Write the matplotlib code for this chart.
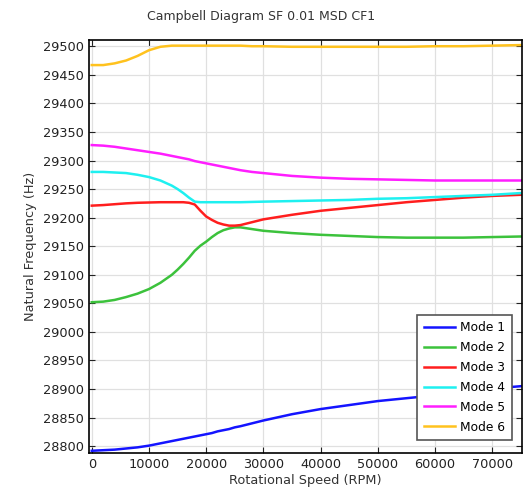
import matplotlib
matplotlib.use("Agg")
import matplotlib.pyplot as plt

# rotational speed samples (RPM)
rpm = [0, 2000, 4000, 6000, 8000, 10000, 12000, 14000, 15000, 16000, 17000,
       18000, 19000, 20000, 21000, 22000, 23000, 24000, 25000, 26000, 28000,
       30000, 35000, 40000, 45000, 50000, 55000, 60000, 65000, 70000, 75000]

mode1 = [28792, 28793, 28794, 28796, 28798, 28801, 28805, 28809, 28811, 28813, 28815,
         28817, 28819, 28821, 28823, 28826, 28828, 28830, 28833, 28835, 28840,
         28845, 28856, 28865, 28872, 28879, 28884, 28889, 28895, 28901, 28905]
mode2 = [29052, 29053, 29056, 29061, 29067, 29075, 29086, 29100, 29109, 29119, 29130,
         29142, 29151, 29158, 29166, 29173, 29178, 29181, 29183, 29183, 29180,
         29177, 29173, 29170, 29168, 29166, 29165, 29165, 29165, 29166, 29167]
mode3 = [29221, 29222, 29223.5, 29225, 29226, 29226.5, 29227, 29227, 29227, 29227, 29226,
         29223, 29212, 29202, 29196, 29191, 29188, 29186, 29186, 29187, 29192,
         29197, 29205, 29212, 29217, 29222, 29227, 29231, 29235, 29238, 29240]
mode4 = [29280, 29280, 29279, 29278, 29275, 29271, 29265, 29256, 29250, 29243, 29235,
         29228, 29227, 29227, 29227, 29227, 29227, 29227, 29227, 29227, 29227.5,
         29228, 29229, 29230, 29231, 29233, 29234, 29236, 29238, 29240, 29243]
mode5 = [29327, 29326, 29324, 29321, 29318, 29315, 29312, 29308, 29306, 29304, 29302,
         29299, 29297, 29295, 29293, 29291, 29289, 29287, 29285, 29283, 29280,
         29278, 29273, 29270, 29268, 29267, 29266, 29265, 29265, 29265, 29265]
mode6 = [29467, 29467, 29470, 29475, 29483, 29493, 29499, 29501, 29501, 29501, 29501,
         29501, 29501, 29501, 29501, 29501, 29501, 29501, 29501, 29501, 29500,
         29500, 29499, 29499, 29499, 29499, 29499, 29500, 29500, 29501, 29502]

modes = [mode1, mode2, mode3, mode4, mode5, mode6]
labels = ["Mode 1", "Mode 2", "Mode 3", "Mode 4", "Mode 5", "Mode 6"]
colors = ["#1414ff", "#3cc23c", "#ff1e1e", "#1ef0f0", "#ff1eff", "#ffc21e"]

plt.rcParams["font.family"] = "DejaVu Sans"

fig = plt.figure(figsize=(5.23, 4.93), dpi=100)
ax = fig.add_axes([0.170, 0.081, 0.828, 0.838])

for y, lab, c in zip(modes, labels, colors):
    ax.plot(rpm, y, color=c, lw=1.8, label=lab)

ax.set_xlim(-500, 75200)
ax.set_ylim(28788, 29511)
ax.set_xticks(range(0, 70001, 10000))
ax.set_yticks(range(28800, 29501, 50))
ax.grid(True, color="#e0e0e0", lw=0.9)
ax.tick_params(direction="in", top=True, right=True, labelsize=9.3, length=4,
               colors="#222222")
for s in ax.spines.values():
    s.set_linewidth(1.2)

ax.set_xlabel("Rotational Speed (RPM)", fontsize=9.3, color="#333333", labelpad=2)
ax.set_ylabel("Natural Frequency (Hz)", fontsize=9.3, color="#333333", labelpad=4)
fig.text(0.5, 0.967, "Campbell Diagram SF 0.01 MSD CF1", ha="center", va="center",
         fontsize=9, color="#333333")

leg = ax.legend(loc="lower right", bbox_to_anchor=(0.977, 0.031), borderaxespad=0,
                fontsize=8.8, fancybox=False, framealpha=1, edgecolor="#555555",
                handlelength=2.5, handletextpad=0.45, borderpad=0.55,
                labelspacing=0.56)
leg.get_frame().set_linewidth(1.2)

fig.savefig("out.png", dpi=100)
